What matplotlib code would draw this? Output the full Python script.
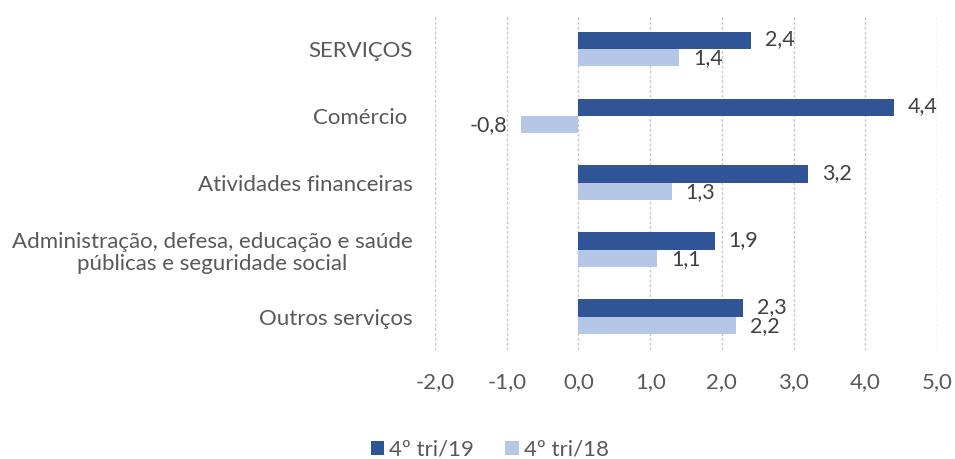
import matplotlib
matplotlib.use("Agg")
import matplotlib.pyplot as plt
import numpy as np

categories = ["SERVIÇOS", "Comércio ", "Atividades financeiras",
              "Administração, defesa, educação e saúde\npúblicas e seguridade social",
              "Outros serviços"]
s19 = [2.4, 4.4, 3.2, 1.9, 2.3]
s18 = [1.4, -0.8, 1.3, 1.1, 2.2]
series_names = ["4º tri/19", "4º tri/18"]
xticks = [-2, -1, 0, 1, 2, 3, 4, 5]

plt.rcParams['font.family'] = ['Lato', 'DejaVu Sans']
dark = "#2F5597"
light = "#B4C7E7"
txt = "#595959"
fs = 16

fig = plt.figure(figsize=(9.55, 4.59), dpi=100)
ax = fig.add_axes([0.4555, 0.2375, 0.9812 - 0.4555, 0.967 - 0.2375])

y = np.arange(len(categories))
h = 0.255
ax.barh(y - h / 2, s19, height=h, color=dark, label=series_names[0], zorder=3)
ax.barh(y + h / 2, s18, height=h, color=light, label=series_names[1], zorder=3)

def fmt(v):
    return f"{v:.1f}".replace(".", ",")

for yi, v in zip(y, s19):
    ax.annotate(fmt(v), (v, yi - h / 2), xytext=(14 if v >= 0 else -14, 1),
                textcoords="offset pixels",
                ha="left" if v >= 0 else "right", va="center", fontsize=fs - 0.5, color="#404040")
for yi, v in zip(y, s18):
    ax.annotate(fmt(v), (v, yi + h / 2), xytext=(14 if v >= 0 else -14, -1),
                textcoords="offset pixels",
                ha="left" if v >= 0 else "right", va="center", fontsize=fs - 0.5, color="#404040")

ax.set_xlim(-2, 5)
ax.set_ylim(4.5, -0.5)
ax.set_xticks(xticks)
ax.set_xticklabels([fmt(t) for t in xticks], fontsize=fs, color=txt)
ax.set_yticks(y)
ax.set_yticklabels(categories, fontsize=fs, color=txt, multialignment="center",
                   linespacing=1.15)
ax.tick_params(axis="both", length=0)
ax.tick_params(axis="x", pad=16)
ax.tick_params(axis="y", pad=16)
for s in ax.spines.values():
    s.set_visible(False)
ax.xaxis.grid(True, color="#C8C8C8", linestyle=(0, (2, 1.5)), linewidth=1.0, zorder=0)
ax.set_axisbelow(True)

leg = fig.legend(loc="center", bbox_to_anchor=(0.513, 0.02), ncol=2, frameon=False,
                 fontsize=fs, handlelength=0.6, handleheight=0.6, handletextpad=0.25,
                 columnspacing=1.4, labelcolor=txt)

fig.savefig("out.png", dpi=100)
